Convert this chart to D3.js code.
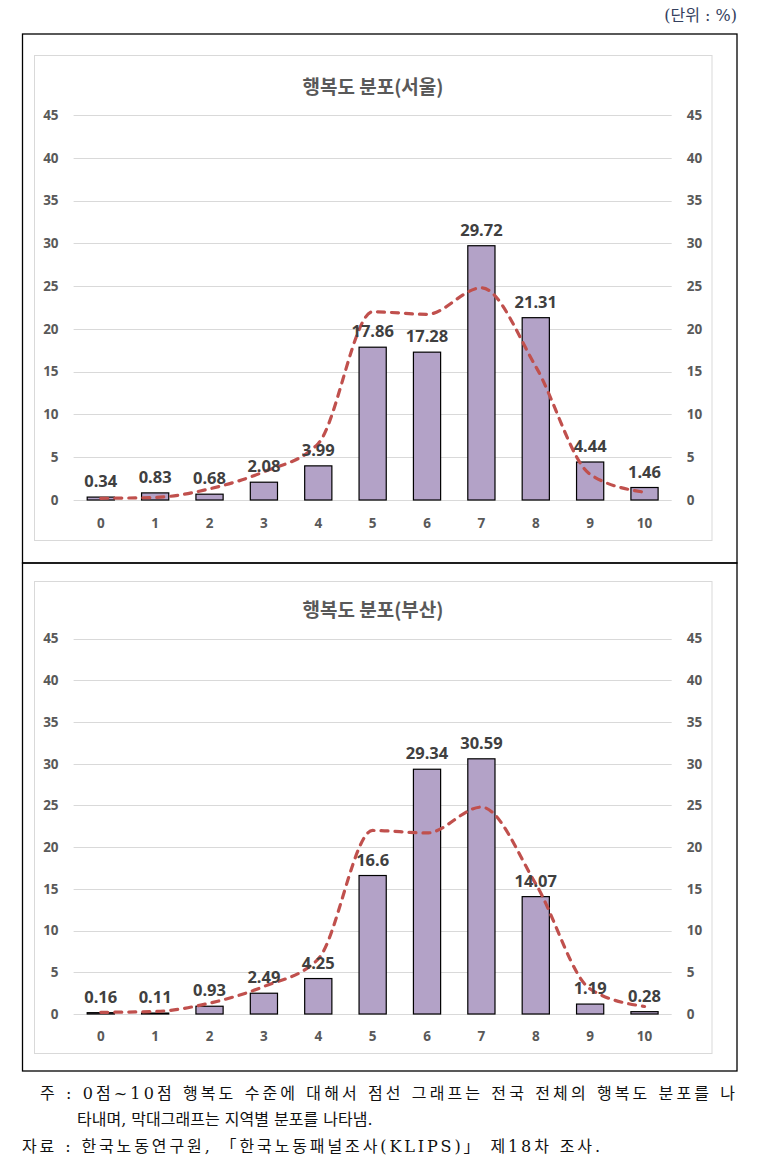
<!DOCTYPE html>
<html><head><meta charset="utf-8">
<script src="https://cdn.jsdelivr.net/npm/d3@7"></script>
<style>
html,body{margin:0;padding:0;background:#fff;}
svg{display:block;}
</style></head>
<body>
<script>
const categories = ["0","1","2","3","4","5","6","7","8","9","10"];
const seoul = [0.34,0.83,0.68,2.08,3.99,17.86,17.28,29.72,21.31,4.44,1.46];
const busan = [0.16,0.11,0.93,2.49,4.25,16.6,29.34,30.59,14.07,1.19,0.28];
const national = [0.2,0.3,1.3,3.3,6.6,22.0,21.7,24.8,15.6,3.0,0.9];
const yTicks = [0,5,10,15,20,25,30,35,40,45];
const titles = ["행복도 분포(서울)","행복도 분포(부산)"];
const unitText = "(단위 : %)";
const note1 = "주 : 0점~10점 행복도 수준에 대해서 점선 그래프는 전국 전체의 행복도 분포를 나";
const note2 = "타내며, 막대그래프는 지역별 분포를 나타냄.";
const source = "자료 : 한국노동연구원, 「한국노동패널조사(KLIPS)」 제18차 조사.";

const W = 766, H = 1172;
const svg = d3.select("body").append("svg").attr("width", W).attr("height", H);

const serif = "'DejaVu Serif','Liberation Serif','Noto Sans CJK KR',serif";
const sans = "'Noto Sans','Noto Sans CJK KR',sans-serif";
const kr = "'Noto Sans CJK KR','Noto Sans',sans-serif";

// unit
svg.append("text").attr("x", 737).attr("y", 21).attr("text-anchor","end")
  .attr("font-family", serif).attr("font-size", 16).attr("fill","#34405e").text(unitText);

// outer boxes
const outer = [[34,563],[563,1071]];
outer.forEach(([y0,y1])=>{
  svg.append("rect").attr("x",22.5).attr("y",y0).attr("width",714.5).attr("height",y1-y0)
    .attr("fill","none").attr("stroke","#000").attr("stroke-width",1.3);
});

const panels = [
  {data: seoul, title: titles[0], box:[55,540], titleY:85, yTop:115, yBot:500, xLabY:523},
  {data: busan, title: titles[1], box:[581,1053], titleY:608, yTop:638.6, yBot:1014, xLabY:1036}
];

panels.forEach(p=>{
  const g = svg.append("g");
  g.append("rect").attr("x",34.5).attr("y",p.box[0]+0.5).attr("width",677.5).attr("height",p.box[1]-p.box[0])
    .attr("fill","#fff").attr("stroke","#d9d9d9").attr("stroke-width",1);
  g.append("text").attr("x",373).attr("y",p.titleY).attr("text-anchor","middle").attr("dominant-baseline","central")
    .attr("font-family",kr).attr("font-weight","bold").attr("font-size",19).attr("fill","#595959").text(p.title);

  const x = d3.scaleBand().domain(categories).range([73.6,671.7]).paddingInner(0.5).paddingOuter(0.25);
  const y = d3.scaleLinear().domain([0,45]).range([p.yBot,p.yTop]);

  // grid
  g.append("g").selectAll("line").data(yTicks).join("line")
    .attr("x1",73.6).attr("x2",671.7).attr("y1",d=>Math.round(y(d))+0.5).attr("y2",d=>Math.round(y(d))+0.5)
    .attr("stroke","#d9d9d9").attr("stroke-width",1);

  const styleAxis = sel=>{
    sel.select(".domain").remove();
    sel.selectAll(".tick line").remove();
    sel.selectAll("text").attr("font-family",sans).attr("font-weight","bold").attr("font-size",13.5).attr("fill","#595959");
  };
  g.append("g").attr("transform","translate(73.6,0)")
    .call(d3.axisLeft(y).tickValues(yTicks).tickSize(0).tickPadding(15)).call(styleAxis);
  g.append("g").attr("transform","translate(671.7,0)")
    .call(d3.axisRight(y).tickValues(yTicks).tickSize(0).tickPadding(15)).call(styleAxis);
  g.append("g").attr("transform",`translate(0,${p.yBot})`)
    .call(d3.axisBottom(x).tickSize(0).tickPadding(p.xLabY-p.yBot-5)).call(styleAxis);

  // bars
  g.append("g").selectAll("rect").data(p.data).join("rect")
    .attr("x",(d,i)=>x(categories[i])).attr("width",x.bandwidth())
    .attr("y",d=>y(d)).attr("height",d=>p.yBot-y(d))
    .attr("fill","#b3a2c7").attr("stroke","#000").attr("stroke-width",1.2);

  // national line
  const line = d3.line().x((d,i)=>x(categories[i])+x.bandwidth()/2).y(d=>y(d)).curve(d3.curveMonotoneX);
  g.append("path").datum(national).attr("d",line).attr("fill","none")
    .attr("stroke","#c0504d").attr("stroke-width",3.2).attr("stroke-dasharray","7,7").attr("stroke-linecap","round");

  // labels
  g.append("g").selectAll("text").data(p.data).join("text")
    .attr("x",(d,i)=>x(categories[i])+x.bandwidth()/2).attr("y",d=>y(d)-10)
    .attr("text-anchor","middle").attr("font-family",sans).attr("font-weight","bold").attr("font-size",16.5)
    .attr("fill","#404040").text(d=>d);
});

// notes, stretched via letter-spacing
function stretched(txt, x0, y0, target){
  const t = svg.append("text").attr("x",x0).attr("y",y0).attr("font-family",serif).attr("font-size",16)
    .attr("fill","#111").text(txt);
  if (target){
    const w = t.node().getComputedTextLength();
    const n = txt.length - 1;
    if (target>w) t.attr("letter-spacing", (target-w)/n);
  }
  return t;
}
stretched(note1, 40, 1099, 695);
stretched(note2, 77, 1125, 283);
stretched(source, 22, 1152, 578);
</script>
</body></html>
